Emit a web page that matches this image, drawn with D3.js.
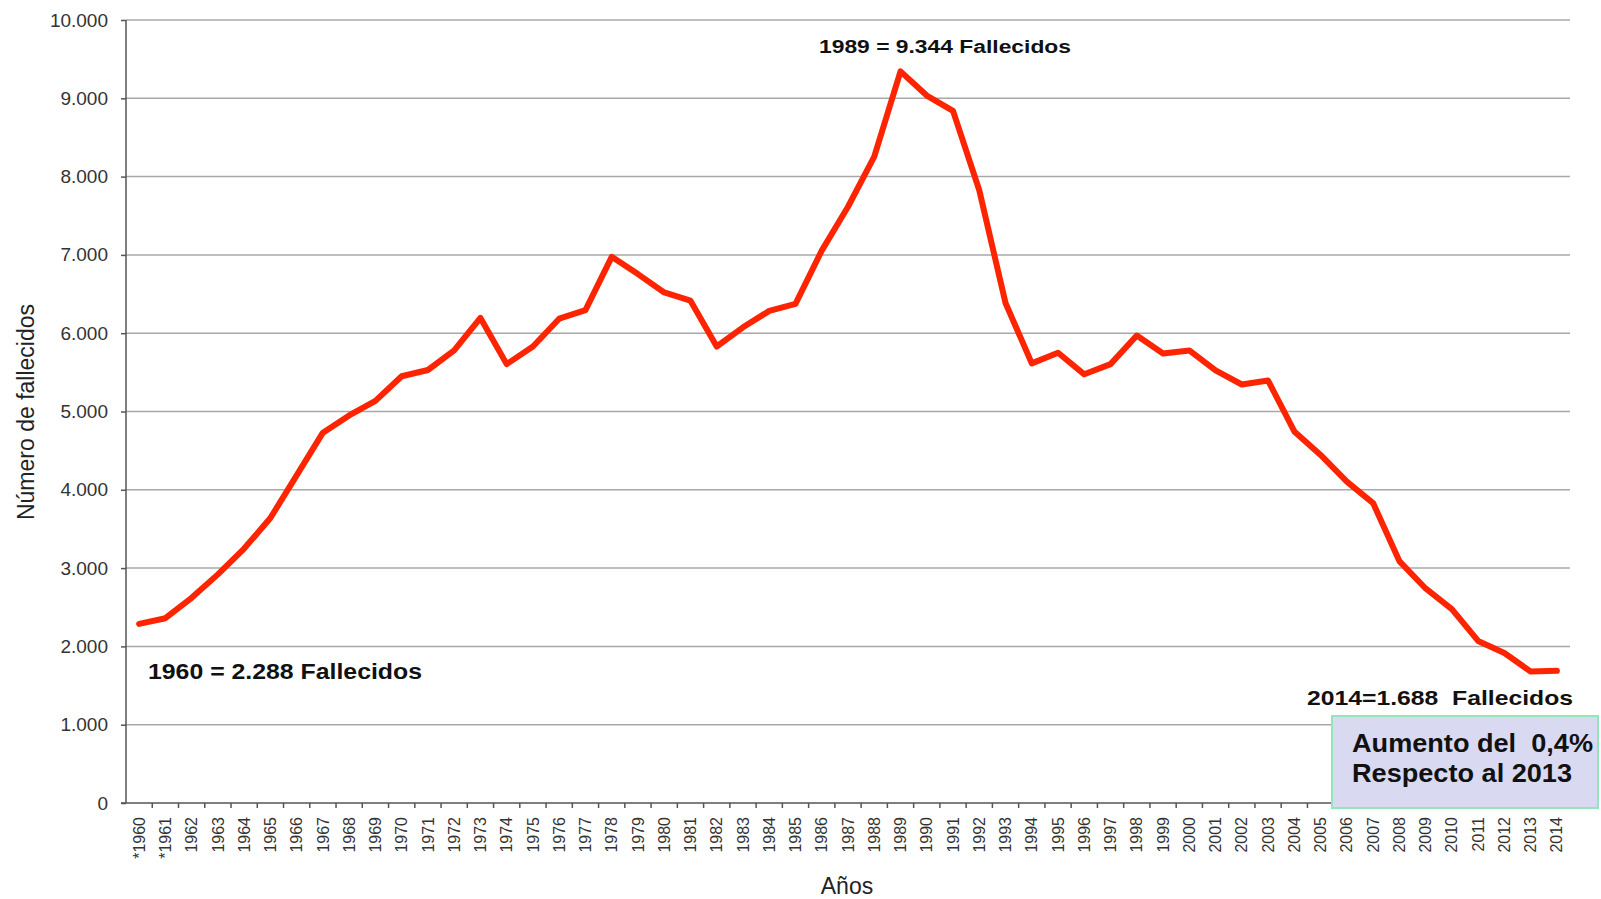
<!DOCTYPE html>
<html>
<head>
<meta charset="utf-8">
<script src="https://cdn.jsdelivr.net/npm/d3@7"></script>
<style>
  body { margin: 0; background: #fff; }
  svg { display: block; font-family: "Liberation Sans", Arial, Helvetica, sans-serif; }
  .grid line { stroke: #a8a8a8; stroke-width: 1.5; }
  .axis path, .axis line { stroke: #555; stroke-width: 1.5; }
  .axis text { fill: #333; }
  .note { font-weight: bold; fill: #111; }
</style>
</head>
<body>
<script>
// Years on the category axis (first two marked with an asterisk)
const years = d3.range(1960, 2015);
const yearLabels = years.map(y => (y <= 1961 ? '*' : '') + y);

// Deaths per year
const deaths = [
  2288, 2360, 2620, 2920, 3250, 3640, 4185, 4730, 4950, 5135,
  5450, 5530, 5780, 6195, 5605, 5830, 6185, 6295, 6975, 6755,
  6520, 6415, 5830, 6075, 6285, 6375, 7055, 7615, 8255, 9344,
  9035, 8840, 7825, 6385, 5615, 5750, 5475, 5605, 5970, 5740,
  5780, 5525, 5345, 5395, 4745, 4445, 4105, 3830, 3090, 2740,
  2475, 2070, 1915, 1680, 1688
];

const yTicks = [0, 1000, 2000, 3000, 4000, 5000, 6000, 7000, 8000, 9000, 10000];

const W = 1601, H = 899;
const plot = { left: 126, right: 1570, top: 20, bottom: 803 };

const svg = d3.select('body').append('svg')
  .attr('width', W)
  .attr('height', H);

const x = d3.scaleBand().domain(years).range([plot.left, plot.right]).padding(0);
const y = d3.scaleLinear().domain([0, 10000]).range([plot.bottom, plot.top]);
const bw = x.bandwidth();

const es = d3.formatLocale({ decimal: ',', thousands: '.', grouping: [3], currency: ['', '€'] });
const fmt = es.format(',d');

// gridlines
svg.append('g').attr('class', 'grid')
  .selectAll('line')
  .data(yTicks.filter(d => d > 0))
  .join('line')
  .attr('x1', plot.left).attr('x2', plot.right)
  .attr('y1', d => y(d)).attr('y2', d => y(d));

// y axis
const yAxis = svg.append('g').attr('class', 'axis')
  .attr('transform', `translate(${plot.left},0)`)
  .call(d3.axisLeft(y).tickValues(yTicks).tickFormat(fmt).tickSize(5).tickPadding(13));
yAxis.select('.domain').attr('d', `M0,${plot.top}V${plot.bottom}`);
yAxis.selectAll('text').style('font-size', '19px');

// x axis: labels at band centres, ticks at band edges
const xAxis = svg.append('g').attr('class', 'axis')
  .attr('transform', `translate(0,${plot.bottom})`)
  .call(d3.axisBottom(x).tickSize(0).tickFormat((d, i) => yearLabels[i]));
xAxis.select('.domain').attr('d', `M${plot.left - 5},0H${plot.right}`);
xAxis.selectAll('text')
  .attr('transform', 'rotate(-90)')
  .attr('text-anchor', 'end')
  .attr('x', -14)
  .attr('y', 0)
  .attr('dy', '0.35em')
  .style('font-size', '16px');
xAxis.append('g').selectAll('line')
  .data(years.slice(1).concat(['end']))
  .join('line')
  .attr('x1', d => d === 'end' ? plot.right : x(d))
  .attr('x2', d => d === 'end' ? plot.right : x(d))
  .attr('y1', 0).attr('y2', 5);

// axis titles
svg.append('text')
  .attr('transform', `translate(34,412) rotate(-90)`)
  .attr('text-anchor', 'middle')
  .style('font-size', '23px')
  .attr('fill', '#222')
  .text('Número de fallecidos');

svg.append('text')
  .attr('x', 847).attr('y', 894)
  .attr('text-anchor', 'middle')
  .style('font-size', '23px')
  .attr('fill', '#222')
  .text('Años');

// the series line
const line = d3.line()
  .x((d, i) => x(years[i]) + bw / 2)
  .y(d => y(d));

svg.append('path')
  .datum(deaths)
  .attr('d', line)
  .attr('fill', 'none')
  .attr('stroke', '#ff2400')
  .attr('stroke-width', 6)
  .attr('stroke-linejoin', 'round')
  .attr('stroke-linecap', 'round');

// annotations
function note(txt, x0, base, size, len) {
  svg.append('text').attr('class', 'note')
    .attr('x', x0).attr('y', base)
    .style('font-size', size + 'px')
    .style('white-space', 'pre')
    .attr('textLength', len)
    .attr('lengthAdjust', 'spacingAndGlyphs')
    .text(txt);
}

note('1989 = 9.344 Fallecidos', 819, 53, 18, 252);
note('1960 = 2.288 Fallecidos', 148, 679, 22, 274);
note('2014=1.688  Fallecidos', 1307, 705, 21, 266);

svg.append('rect')
  .attr('x', 1332).attr('y', 716)
  .attr('width', 266).attr('height', 92)
  .attr('fill', '#d9daf1')
  .attr('stroke', '#92e6b9')
  .attr('stroke-width', 2);

note('Aumento del  0,4%', 1352, 752, 26, 241);
note('Respecto al 2013', 1352, 782, 26, 220);
</script>
</body>
</html>
